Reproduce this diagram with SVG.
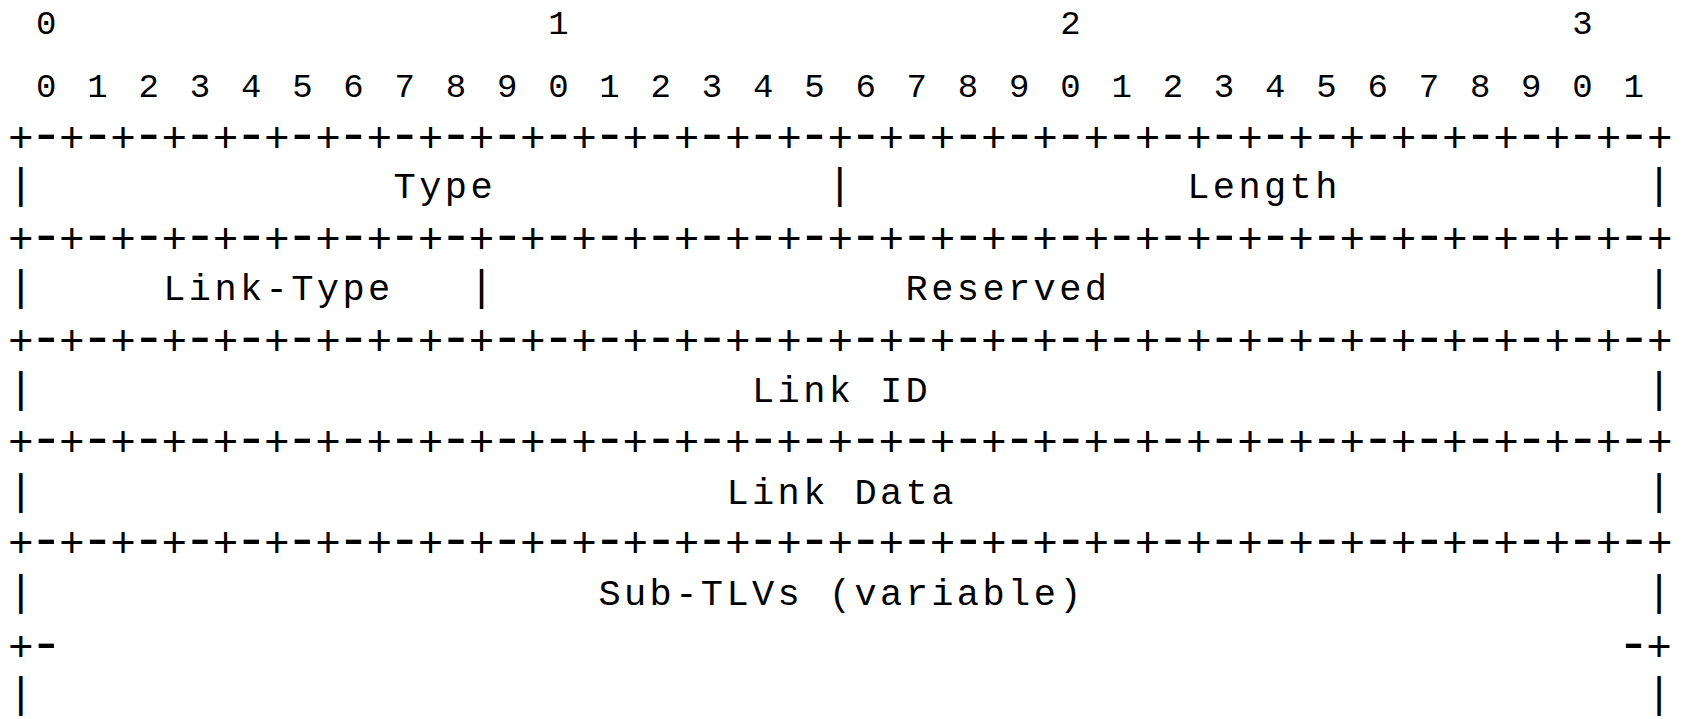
<svg xmlns="http://www.w3.org/2000/svg" width="1684" height="719" viewBox="0 0 1684 719">
<style>
text{font-family:"Liberation Mono","DejaVu Sans Mono",monospace;fill:#000}
.lbl{font-size:37px;letter-spacing:3.4px}
.num{font-size:34px;letter-spacing:5.2px}
.sep{font-size:42.67px;letter-spacing:-4px}
.m{font-size:56px}
.bar{font-size:42.67px}
</style>
<rect width="1684" height="719" fill="#ffffff"/>
<g id="ruler">
<text class="num" x="10.5" y="34.3" xml:space="preserve"> 0                   1                   2                   3</text>
<text class="num" x="36.1" y="96.7">0 1 2 3 4 5 6 7 8 9 0 1 2 3 4 5 6 7 8 9 0 1 2 3 4 5 6 7 8 9 0 1</text>
</g>
<g id="separators">
<text class="sep" x="7.9" y="152">+<tspan class="m">-</tspan>+<tspan class="m">-</tspan>+<tspan class="m">-</tspan>+<tspan class="m">-</tspan>+<tspan class="m">-</tspan>+<tspan class="m">-</tspan>+<tspan class="m">-</tspan>+<tspan class="m">-</tspan>+<tspan class="m">-</tspan>+<tspan class="m">-</tspan>+<tspan class="m">-</tspan>+<tspan class="m">-</tspan>+<tspan class="m">-</tspan>+<tspan class="m">-</tspan>+<tspan class="m">-</tspan>+<tspan class="m">-</tspan>+<tspan class="m">-</tspan>+<tspan class="m">-</tspan>+<tspan class="m">-</tspan>+<tspan class="m">-</tspan>+<tspan class="m">-</tspan>+<tspan class="m">-</tspan>+<tspan class="m">-</tspan>+<tspan class="m">-</tspan>+<tspan class="m">-</tspan>+<tspan class="m">-</tspan>+<tspan class="m">-</tspan>+<tspan class="m">-</tspan>+<tspan class="m">-</tspan>+<tspan class="m">-</tspan>+<tspan class="m">-</tspan>+<tspan class="m">-</tspan>+</text>
<text class="sep" x="7.9" y="253.4">+<tspan class="m">-</tspan>+<tspan class="m">-</tspan>+<tspan class="m">-</tspan>+<tspan class="m">-</tspan>+<tspan class="m">-</tspan>+<tspan class="m">-</tspan>+<tspan class="m">-</tspan>+<tspan class="m">-</tspan>+<tspan class="m">-</tspan>+<tspan class="m">-</tspan>+<tspan class="m">-</tspan>+<tspan class="m">-</tspan>+<tspan class="m">-</tspan>+<tspan class="m">-</tspan>+<tspan class="m">-</tspan>+<tspan class="m">-</tspan>+<tspan class="m">-</tspan>+<tspan class="m">-</tspan>+<tspan class="m">-</tspan>+<tspan class="m">-</tspan>+<tspan class="m">-</tspan>+<tspan class="m">-</tspan>+<tspan class="m">-</tspan>+<tspan class="m">-</tspan>+<tspan class="m">-</tspan>+<tspan class="m">-</tspan>+<tspan class="m">-</tspan>+<tspan class="m">-</tspan>+<tspan class="m">-</tspan>+<tspan class="m">-</tspan>+<tspan class="m">-</tspan>+<tspan class="m">-</tspan>+</text>
<text class="sep" x="7.9" y="354.9">+<tspan class="m">-</tspan>+<tspan class="m">-</tspan>+<tspan class="m">-</tspan>+<tspan class="m">-</tspan>+<tspan class="m">-</tspan>+<tspan class="m">-</tspan>+<tspan class="m">-</tspan>+<tspan class="m">-</tspan>+<tspan class="m">-</tspan>+<tspan class="m">-</tspan>+<tspan class="m">-</tspan>+<tspan class="m">-</tspan>+<tspan class="m">-</tspan>+<tspan class="m">-</tspan>+<tspan class="m">-</tspan>+<tspan class="m">-</tspan>+<tspan class="m">-</tspan>+<tspan class="m">-</tspan>+<tspan class="m">-</tspan>+<tspan class="m">-</tspan>+<tspan class="m">-</tspan>+<tspan class="m">-</tspan>+<tspan class="m">-</tspan>+<tspan class="m">-</tspan>+<tspan class="m">-</tspan>+<tspan class="m">-</tspan>+<tspan class="m">-</tspan>+<tspan class="m">-</tspan>+<tspan class="m">-</tspan>+<tspan class="m">-</tspan>+<tspan class="m">-</tspan>+<tspan class="m">-</tspan>+</text>
<text class="sep" x="7.9" y="455.9">+<tspan class="m">-</tspan>+<tspan class="m">-</tspan>+<tspan class="m">-</tspan>+<tspan class="m">-</tspan>+<tspan class="m">-</tspan>+<tspan class="m">-</tspan>+<tspan class="m">-</tspan>+<tspan class="m">-</tspan>+<tspan class="m">-</tspan>+<tspan class="m">-</tspan>+<tspan class="m">-</tspan>+<tspan class="m">-</tspan>+<tspan class="m">-</tspan>+<tspan class="m">-</tspan>+<tspan class="m">-</tspan>+<tspan class="m">-</tspan>+<tspan class="m">-</tspan>+<tspan class="m">-</tspan>+<tspan class="m">-</tspan>+<tspan class="m">-</tspan>+<tspan class="m">-</tspan>+<tspan class="m">-</tspan>+<tspan class="m">-</tspan>+<tspan class="m">-</tspan>+<tspan class="m">-</tspan>+<tspan class="m">-</tspan>+<tspan class="m">-</tspan>+<tspan class="m">-</tspan>+<tspan class="m">-</tspan>+<tspan class="m">-</tspan>+<tspan class="m">-</tspan>+<tspan class="m">-</tspan>+</text>
<text class="sep" x="7.9" y="556.9">+<tspan class="m">-</tspan>+<tspan class="m">-</tspan>+<tspan class="m">-</tspan>+<tspan class="m">-</tspan>+<tspan class="m">-</tspan>+<tspan class="m">-</tspan>+<tspan class="m">-</tspan>+<tspan class="m">-</tspan>+<tspan class="m">-</tspan>+<tspan class="m">-</tspan>+<tspan class="m">-</tspan>+<tspan class="m">-</tspan>+<tspan class="m">-</tspan>+<tspan class="m">-</tspan>+<tspan class="m">-</tspan>+<tspan class="m">-</tspan>+<tspan class="m">-</tspan>+<tspan class="m">-</tspan>+<tspan class="m">-</tspan>+<tspan class="m">-</tspan>+<tspan class="m">-</tspan>+<tspan class="m">-</tspan>+<tspan class="m">-</tspan>+<tspan class="m">-</tspan>+<tspan class="m">-</tspan>+<tspan class="m">-</tspan>+<tspan class="m">-</tspan>+<tspan class="m">-</tspan>+<tspan class="m">-</tspan>+<tspan class="m">-</tspan>+<tspan class="m">-</tspan>+<tspan class="m">-</tspan>+</text>
<text class="sep" x="7.9" y="661.1">+<tspan class="m">-</tspan></text>
<text class="sep" x="1616.7" y="661.1"><tspan class="m">-</tspan>+</text>
</g>
<g id="frame">
<text class="bar" x="7.9" y="197.5">|</text>
<text class="bar" x="827.1" y="197.5">|</text>
<text class="bar" x="1646.3" y="197.5">|</text>
<text class="bar" x="7.9" y="299.5">|</text>
<text class="bar" x="468.7" y="299.5">|</text>
<text class="bar" x="1646.3" y="299.5">|</text>
<text class="bar" x="7.9" y="401.5">|</text>
<text class="bar" x="1646.3" y="401.5">|</text>
<text class="bar" x="7.9" y="504">|</text>
<text class="bar" x="1646.3" y="504">|</text>
<text class="bar" x="7.9" y="605">|</text>
<text class="bar" x="1646.3" y="605">|</text>
<text class="bar" x="7.9" y="707">|</text>
<text class="bar" x="1646.3" y="707">|</text>
</g>
<g id="type"><text class="lbl" x="393.6" y="197.5">Type</text></g>
<g id="length"><text class="lbl" x="1187.2" y="197.5">Length</text></g>
<g id="link-type"><text class="lbl" x="163.2" y="299.5">Link-Type</text></g>
<g id="reserved"><text class="lbl" x="905.6" y="299.5">Reserved</text></g>
<g id="link-id"><text class="lbl" x="752" y="401.5">Link ID</text></g>
<g id="link-data"><text class="lbl" x="726.4" y="504">Link Data</text></g>
<g id="sub-tlvs"><text class="lbl" x="598.4" y="605">Sub-TLVs (variable)</text></g>
</svg>
